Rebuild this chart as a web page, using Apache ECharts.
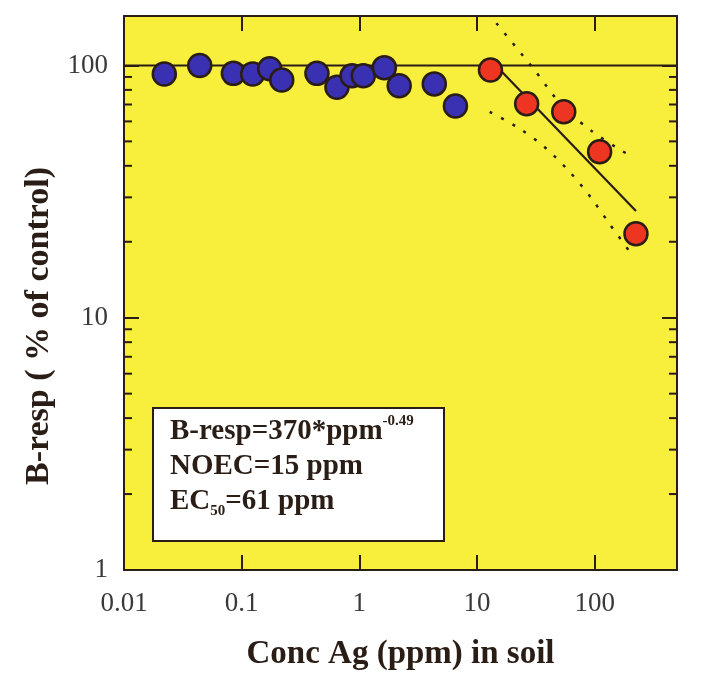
<!DOCTYPE html>
<html>
<head>
<meta charset="utf-8">
<script src="https://cdn.jsdelivr.net/npm/echarts@6/dist/echarts.min.js"></script>
<style>
html,body{margin:0;padding:0;background:#fff;}
#chart{width:709px;height:681px;}
</style>
</head>
<body>
<div id="chart"></div>
<script>
// ---- data ----
const blueX = [0.022, 0.044, 0.085, 0.124, 0.173, 0.219, 0.436, 0.645, 0.867, 1.08, 1.63, 2.18, 4.33, 6.55];
const blueY = [92.5, 100, 93, 92.5, 97, 87.5, 93, 82, 91, 91, 98, 83, 84.5, 69];
const redX = [13.0, 26.4, 54.5, 110, 224];
const redY = [96, 70.5, 65.5, 45.5, 21.5];
const controlX = [0.01, 500];
const controlY = [100, 100];
const fitX = [15.5, 224];
const fitY = [96.5, 26.5];
const upperX = [14.6, 29.9, 53.8, 94, 158, 210];
const upperY = [147, 97.5, 68.5, 55, 46.8, 43.4];
const lowerX = [12.8, 23.0, 37.6, 61.4, 94, 134, 198];
const lowerY = [65.5, 56.2, 47.4, 37.8, 29.7, 23.5, 18.3];
const xTickLabels = {'-2': '0.01', '-1': '0.1', '0': '1', '1': '10', '2': '100'};
const yTickLabels = {'0': '1', '1': '10', '2': '100'};
const yMinorTicks = [2, 3, 4, 5, 6, 7, 8, 9, 20, 30, 40, 50, 60, 70, 80, 90];
const xMin = 0.01, xMax = 500, yMin = 1, yMax = 157;

const zip = (xs, ys) => xs.map((x, i) => [x, ys[i]]);
function powLabel(map) {
  return function (v) {
    const l = Math.log10(v);
    const e = Math.round(l);
    if (Math.abs(l - e) > 1e-6) return '';
    return map[String(e)] || '';
  };
}

const ink = '#2a1d16';
const serif = '"Liberation Serif", "Times New Roman", serif';

const chart = echarts.init(document.getElementById('chart'), null, {renderer: 'canvas'});
const axisLine = {show: true, onZero: false, lineStyle: {color: ink, width: 2}};
const majorTick = {show: true, inside: true, length: 15, lineStyle: {color: ink, width: 2}};

chart.setOption({
  animation: false,
  backgroundColor: '#ffffff',
  grid: {left: 124, right: 32, top: 16, bottom: 111, show: true, backgroundColor: '#f7ef3c', borderWidth: 0},
  title: {
    left: 153, top: 408,
    backgroundColor: '#ffffff',
    borderColor: ink, borderWidth: 2,
    padding: [6, 30, 22, 17],
    text: '{a|B-resp=370*ppm}{sup|-0.49}\n{a|NOEC=15 ppm}\n{a|EC}{sub|50}{a|=61 ppm}',
    textStyle: {
      rich: {
        a: {fontFamily: serif, fontWeight: 'bold', fontSize: 29, lineHeight: 35, color: ink},
        sup: {fontFamily: serif, fontWeight: 'bold', fontSize: 15, lineHeight: 30, verticalAlign: 'top', color: ink},
        sub: {fontFamily: serif, fontWeight: 'bold', fontSize: 15, lineHeight: 10, verticalAlign: 'bottom', color: ink}
      }
    }
  },
  xAxis: [{
    type: 'log', logBase: 10, min: xMin, max: xMax, position: 'bottom',
    name: 'Conc Ag (ppm) in soil', nameLocation: 'middle', nameGap: 68,
    nameTextStyle: {fontFamily: serif, fontWeight: 'bold', fontSize: 33, color: ink},
    axisLine: axisLine, axisTick: majorTick,
    axisLabel: {formatter: powLabel(xTickLabels), fontFamily: serif, fontSize: 27, color: '#3a3a3a', margin: 20, showMaxLabel: false},
    splitLine: {show: false}, minorTick: {show: false}
  }, {
    type: 'log', logBase: 10, min: xMin, max: xMax, position: 'top',
    axisLine: axisLine, axisTick: majorTick, axisLabel: {show: false}, splitLine: {show: false}
  }],
  yAxis: [{
    type: 'log', logBase: 10, min: yMin, max: yMax, position: 'left',
    name: 'B-resp ( % of control)', nameLocation: 'middle', nameGap: 66, nameRotate: 90,
    nameTextStyle: {fontFamily: serif, fontWeight: 'bold', fontSize: 34, color: ink, padding: [0, 0, 0, -66]},
    axisLine: axisLine, axisTick: majorTick,
    axisLabel: {formatter: powLabel(yTickLabels), fontFamily: serif, fontSize: 27, color: '#3a3a3a', margin: 16, showMaxLabel: false},
    splitLine: {show: false}
  }, {
    type: 'log', logBase: 10, min: yMin, max: yMax, position: 'right',
    axisLine: axisLine, axisTick: majorTick, axisLabel: {show: false}, splitLine: {show: false}
  }],
  series: [
    {
      type: 'custom', xAxisIndex: 0, yAxisIndex: 0, silent: true, z: 3,
      data: yMinorTicks.map(v => [1, v]),
      renderItem: function (params, api) {
        const p = api.coord([api.value(0), api.value(1)]);
        const cs = params.coordSys;
        const st = {stroke: ink, lineWidth: 2};
        return {type: 'group', children: [
          {type: 'line', shape: {x1: cs.x, y1: p[1], x2: cs.x + 8, y2: p[1]}, style: st},
          {type: 'line', shape: {x1: cs.x + cs.width, y1: p[1], x2: cs.x + cs.width - 8, y2: p[1]}, style: st}
        ]};
      }
    },
    {type: 'line', data: zip(controlX, controlY), symbol: 'none', lineStyle: {color: ink, width: 2}, z: 2},
    {type: 'line', data: zip(fitX, fitY), symbol: 'none', lineStyle: {color: ink, width: 2.2}, z: 2},
    {type: 'line', data: zip(upperX, upperY), symbol: 'none', smooth: 0.3, lineStyle: {color: ink, width: 2.5, type: [3, 10]}, z: 2},
    {type: 'line', data: zip(lowerX, lowerY), symbol: 'none', smooth: 0.3, lineStyle: {color: ink, width: 2.5, type: [3, 10]}, z: 2},
    {type: 'scatter', data: zip(blueX, blueY), symbol: 'circle', symbolSize: 23,
      itemStyle: {color: '#3a31b2', borderColor: ink, borderWidth: 2.5, opacity: 1}, z: 5},
    {type: 'scatter', data: zip(redX, redY), symbol: 'circle', symbolSize: 23,
      itemStyle: {color: '#ee3522', borderColor: ink, borderWidth: 2.5, opacity: 1}, z: 5}
  ]
});
</script>
</body>
</html>
